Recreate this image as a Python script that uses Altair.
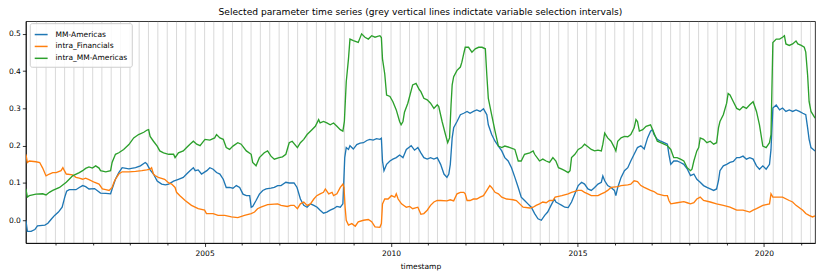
import altair as alt
import pandas as pd

# ---------------- data ----------------
series_names = ["MM-Americas", "intra_Financials", "intra_MM-Americas"]
series_colors = ["#1f77b4", "#ff7f0e", "#2ca02c"]

mm_years = [2000.21, 2000.25, 2000.35, 2000.45, 2000.52, 2000.72, 2000.80, 2000.90, 2000.98, 2001.08,
            2001.18, 2001.25, 2001.30, 2001.37, 2001.55, 2001.64, 2001.73, 2001.81, 2001.90, 2002.05,
            2002.21, 2002.35, 2002.48, 2002.52, 2002.61, 2002.70, 2002.79, 2002.97, 2003.15, 2003.28,
            2003.41, 2003.45, 2003.54, 2003.63, 2003.73, 2003.85, 2003.95, 2004.04, 2004.17, 2004.30,
            2004.43, 2004.52, 2004.61, 2004.70, 2004.75, 2004.83, 2004.92, 2005.06, 2005.14, 2005.23,
            2005.32, 2005.41, 2005.50, 2005.58, 2005.67, 2005.76, 2005.85, 2005.94, 2006.03, 2006.12,
            2006.21, 2006.25, 2006.29, 2006.38, 2006.47, 2006.56, 2006.65, 2006.78, 2006.87, 2006.96,
            2007.05, 2007.18, 2007.27, 2007.40, 2007.48, 2007.57, 2007.66, 2007.75, 2007.84, 2007.93,
            2008.02, 2008.10, 2008.19, 2008.28, 2008.37, 2008.46, 2008.55, 2008.64, 2008.71, 2008.76,
            2008.80, 2008.86, 2008.90, 2008.99, 2009.08, 2009.17, 2009.26, 2009.35, 2009.43, 2009.52,
            2009.61, 2009.70, 2009.74, 2009.77, 2009.81, 2009.88, 2009.97, 2010.05, 2010.14, 2010.23,
            2010.32, 2010.41, 2010.54, 2010.63, 2010.72, 2010.80, 2010.88, 2010.97, 2011.06, 2011.15,
            2011.24, 2011.33, 2011.42, 2011.50, 2011.55, 2011.59, 2011.64, 2011.68, 2011.77, 2011.86,
            2011.95, 2012.04, 2012.12, 2012.21, 2012.30, 2012.39, 2012.48, 2012.57, 2012.61, 2012.70,
            2012.79, 2012.88, 2012.97, 2013.05, 2013.14, 2013.23, 2013.32, 2013.41, 2013.49, 2013.58,
            2013.67, 2013.76, 2013.85, 2013.94, 2014.03, 2014.12, 2014.20, 2014.29, 2014.38, 2014.42,
            2014.49, 2014.58, 2014.66, 2014.75, 2014.84, 2014.93, 2015.02, 2015.11, 2015.19, 2015.28,
            2015.37, 2015.46, 2015.55, 2015.64, 2015.68, 2015.73, 2015.81, 2015.90, 2015.99, 2016.03,
            2016.08, 2016.17, 2016.26, 2016.35, 2016.43, 2016.52, 2016.61, 2016.70, 2016.79, 2016.88,
            2016.96, 2017.01, 2017.05, 2017.14, 2017.23, 2017.32, 2017.41, 2017.45, 2017.50, 2017.58,
            2017.67, 2017.76, 2017.85, 2017.94, 2018.03, 2018.12, 2018.20, 2018.29, 2018.38, 2018.47,
            2018.56, 2018.65, 2018.73, 2018.78, 2018.82, 2018.91, 2019.00, 2019.09, 2019.18, 2019.27,
            2019.35, 2019.44, 2019.53, 2019.62, 2019.71, 2019.80, 2019.88, 2019.97, 2020.06, 2020.15,
            2020.19, 2020.24, 2020.33, 2020.42, 2020.50, 2020.59, 2020.68, 2020.77, 2020.86, 2020.95,
            2021.04, 2021.12, 2021.17, 2021.21, 2021.26, 2021.37]
mm_values = [0.000, -0.030, -0.030, -0.025, -0.015, -0.013, -0.008, 0.004, 0.013, 0.022,
             0.035, 0.062, 0.078, 0.082, 0.082, 0.088, 0.093, 0.090, 0.084, 0.085,
             0.073, 0.072, 0.071, 0.084, 0.110, 0.128, 0.141, 0.138, 0.141, 0.146,
             0.155, 0.152, 0.135, 0.124, 0.105, 0.097, 0.095, 0.097, 0.105, 0.110,
             0.115, 0.124, 0.133, 0.141, 0.133, 0.135, 0.124, 0.133, 0.141, 0.137,
             0.128, 0.124, 0.110, 0.088, 0.088, 0.086, 0.093, 0.088, 0.070, 0.066,
             0.066, 0.035, 0.037, 0.053, 0.070, 0.080, 0.084, 0.086, 0.088, 0.093,
             0.093, 0.102, 0.100, 0.100, 0.088, 0.057, 0.040, 0.035, 0.044, 0.040,
             0.035, 0.027, 0.019, 0.022, 0.027, 0.031, 0.037, 0.035, 0.044, 0.168,
             0.195, 0.190, 0.200, 0.191, 0.203, 0.207, 0.208, 0.214, 0.217, 0.215,
             0.219, 0.217, 0.220, 0.159, 0.133, 0.150, 0.159, 0.164, 0.168, 0.175,
             0.168, 0.190, 0.200, 0.188, 0.195, 0.181, 0.168, 0.164, 0.168, 0.164,
             0.168, 0.150, 0.124, 0.115, 0.124, 0.150, 0.221, 0.248, 0.265, 0.283,
             0.287, 0.292, 0.287, 0.292, 0.296, 0.292, 0.299, 0.283, 0.256, 0.230,
             0.212, 0.199, 0.186, 0.168, 0.159, 0.141, 0.115, 0.088, 0.062, 0.053,
             0.044, 0.035, 0.018, 0.004, 0.000, 0.013, 0.022, 0.040, 0.057, 0.049,
             0.045, 0.040, 0.035, 0.034, 0.049, 0.071, 0.093, 0.102, 0.097, 0.084,
             0.080, 0.088, 0.097, 0.102, 0.119, 0.106, 0.093, 0.088, 0.080, 0.066,
             0.088, 0.115, 0.133, 0.141, 0.159, 0.177, 0.195, 0.200, 0.191, 0.221,
             0.239, 0.243, 0.230, 0.217, 0.212, 0.208, 0.204, 0.177, 0.150, 0.159,
             0.159, 0.155, 0.150, 0.138, 0.120, 0.124, 0.110, 0.102, 0.093, 0.088,
             0.084, 0.080, 0.084, 0.106, 0.133, 0.146, 0.150, 0.155, 0.158, 0.168,
             0.168, 0.172, 0.164, 0.168, 0.164, 0.146, 0.137, 0.146, 0.137, 0.150,
             0.190, 0.301, 0.309, 0.296, 0.301, 0.292, 0.296, 0.292, 0.296, 0.292,
             0.287, 0.283, 0.248, 0.217, 0.195, 0.186]

fin_years = [2000.21, 2000.25, 2000.30, 2000.48, 2000.58, 2000.66, 2000.75, 2000.84, 2000.93, 2001.02,
             2001.15, 2001.20, 2001.24, 2001.29, 2001.46, 2001.55, 2001.64, 2001.73, 2001.81, 2001.90,
             2002.04, 2002.17, 2002.26, 2002.35, 2002.44, 2002.52, 2002.57, 2002.61, 2002.70, 2002.79,
             2002.97, 2003.15, 2003.32, 2003.45, 2003.54, 2003.58, 2003.63, 2003.67, 2003.76, 2003.93,
             2004.04, 2004.12, 2004.21, 2004.25, 2004.34, 2004.48, 2004.65, 2004.83, 2005.00, 2005.05,
             2005.23, 2005.36, 2005.54, 2005.72, 2005.89, 2006.07, 2006.25, 2006.34, 2006.42, 2006.51,
             2006.69, 2006.96, 2007.05, 2007.22, 2007.31, 2007.40, 2007.49, 2007.57, 2007.66, 2007.75,
             2007.84, 2007.93, 2008.01, 2008.10, 2008.19, 2008.24, 2008.33, 2008.42, 2008.46, 2008.55,
             2008.64, 2008.71, 2008.74, 2008.77, 2008.80, 2008.86, 2008.95, 2009.04, 2009.12, 2009.26,
             2009.39, 2009.48, 2009.57, 2009.70, 2009.74, 2009.77, 2009.83, 2009.92, 2010.01, 2010.10,
             2010.14, 2010.19, 2010.28, 2010.41, 2010.50, 2010.58, 2010.72, 2010.80, 2010.88, 2010.97,
             2011.06, 2011.15, 2011.24, 2011.33, 2011.50, 2011.59, 2011.68, 2011.77, 2011.86, 2011.95,
             2011.99, 2012.04, 2012.12, 2012.21, 2012.30, 2012.39, 2012.48, 2012.57, 2012.65, 2012.70,
             2012.79, 2012.88, 2012.97, 2013.10, 2013.27, 2013.36, 2013.45, 2013.54, 2013.72, 2013.81,
             2013.89, 2013.98, 2014.07, 2014.16, 2014.25, 2014.34, 2014.40, 2014.49, 2014.58, 2014.75,
             2014.84, 2015.02, 2015.11, 2015.19, 2015.28, 2015.37, 2015.55, 2015.64, 2015.73, 2015.81,
             2015.90, 2016.08, 2016.17, 2016.35, 2016.43, 2016.52, 2016.61, 2016.70, 2016.79, 2016.96,
             2017.05, 2017.14, 2017.32, 2017.41, 2017.45, 2017.50, 2017.67, 2017.85, 2017.94, 2018.03,
             2018.12, 2018.20, 2018.29, 2018.38, 2018.56, 2018.73, 2018.91, 2019.09, 2019.18, 2019.27,
             2019.44, 2019.62, 2019.71, 2019.80, 2019.97, 2020.15, 2020.19, 2020.24, 2020.42, 2020.50,
             2020.68, 2020.77, 2020.86, 2021.04, 2021.12, 2021.21, 2021.30, 2021.37]
fin_values = [0.177, 0.155, 0.159, 0.157, 0.155, 0.140, 0.119, 0.124, 0.128, 0.128,
              0.133, 0.141, 0.133, 0.124, 0.122, 0.115, 0.113, 0.110, 0.113, 0.109,
              0.102, 0.097, 0.084, 0.082, 0.080, 0.088, 0.102, 0.110, 0.124, 0.130,
              0.130, 0.131, 0.133, 0.135, 0.137, 0.141, 0.124, 0.120, 0.115, 0.110,
              0.100, 0.097, 0.088, 0.075, 0.066, 0.053, 0.040, 0.031, 0.027, 0.018,
              0.018, 0.013, 0.013, 0.009, 0.007, 0.013, 0.018, 0.022, 0.031, 0.035,
              0.042, 0.044, 0.040, 0.037, 0.040, 0.040, 0.031, 0.044, 0.049, 0.040,
              0.044, 0.057, 0.066, 0.071, 0.075, 0.084, 0.071, 0.075, 0.066, 0.071,
              0.088, 0.097, 0.088, 0.035, 0.000, -0.013, -0.009, -0.016, -0.004, 0.000,
              0.002, -0.004, -0.018, -0.019, -0.009, 0.044, 0.057, 0.057, 0.066, 0.062,
              0.071, 0.057, 0.044, 0.035, 0.037, 0.031, 0.035, 0.016, 0.018, 0.027,
              0.040, 0.049, 0.053, 0.053, 0.052, 0.055, 0.052, 0.071, 0.075, 0.075,
              0.071, 0.053, 0.053, 0.057, 0.057, 0.062, 0.066, 0.080, 0.093, 0.088,
              0.075, 0.071, 0.062, 0.057, 0.055, 0.053, 0.044, 0.035, 0.033, 0.035,
              0.040, 0.044, 0.049, 0.047, 0.053, 0.053, 0.062, 0.064, 0.066, 0.071,
              0.075, 0.080, 0.080, 0.075, 0.071, 0.066, 0.066, 0.071, 0.075, 0.080,
              0.088, 0.090, 0.093, 0.095, 0.097, 0.106, 0.104, 0.093, 0.088, 0.080,
              0.077, 0.071, 0.066, 0.066, 0.053, 0.044, 0.047, 0.050, 0.047, 0.044,
              0.047, 0.057, 0.062, 0.053, 0.049, 0.044, 0.040, 0.035, 0.031, 0.027,
              0.027, 0.022, 0.027, 0.031, 0.040, 0.044, 0.071, 0.062, 0.062, 0.062,
              0.053, 0.049, 0.040, 0.027, 0.018, 0.013, 0.009, 0.012]

intra_years = [2000.21, 2000.25, 2000.30, 2000.48, 2000.66, 2000.75, 2000.84, 2000.93, 2001.11, 2001.29,
               2001.37, 2001.46, 2001.64, 2001.73, 2001.81, 2001.90, 2001.99, 2002.08, 2002.17, 2002.21,
               2002.35, 2002.48, 2002.52, 2002.61, 2002.70, 2002.83, 2002.97, 2003.10, 2003.23, 2003.37,
               2003.46, 2003.50, 2003.54, 2003.63, 2003.73, 2003.80, 2003.90, 2004.04, 2004.17, 2004.21,
               2004.30, 2004.43, 2004.52, 2004.61, 2004.70, 2004.79, 2004.88, 2005.01, 2005.14, 2005.27,
               2005.32, 2005.41, 2005.50, 2005.58, 2005.67, 2005.76, 2005.89, 2005.98, 2006.12, 2006.25,
               2006.29, 2006.38, 2006.47, 2006.60, 2006.69, 2006.78, 2006.87, 2007.00, 2007.09, 2007.18,
               2007.27, 2007.35, 2007.49, 2007.57, 2007.66, 2007.75, 2007.88, 2007.97, 2008.06, 2008.10,
               2008.19, 2008.28, 2008.37, 2008.46, 2008.55, 2008.64, 2008.71, 2008.75, 2008.80, 2008.86,
               2008.90, 2008.99, 2009.12, 2009.21, 2009.30, 2009.39, 2009.48, 2009.57, 2009.70, 2009.74,
               2009.77, 2009.83, 2009.88, 2009.97, 2010.05, 2010.14, 2010.23, 2010.27, 2010.32, 2010.36,
               2010.45, 2010.58, 2010.67, 2010.76, 2010.80, 2010.88, 2010.97, 2011.06, 2011.15, 2011.24,
               2011.28, 2011.37, 2011.46, 2011.52, 2011.57, 2011.61, 2011.64, 2011.68, 2011.77, 2011.86,
               2011.90, 2011.95, 2011.99, 2012.08, 2012.17, 2012.26, 2012.35, 2012.44, 2012.53, 2012.57,
               2012.61, 2012.70, 2012.79, 2012.88, 2012.97, 2013.05, 2013.19, 2013.32, 2013.41, 2013.49,
               2013.58, 2013.72, 2013.81, 2013.85, 2013.98, 2014.07, 2014.16, 2014.25, 2014.34, 2014.42,
               2014.49, 2014.58, 2014.66, 2014.75, 2014.80, 2014.84, 2014.93, 2015.02, 2015.11, 2015.19,
               2015.28, 2015.37, 2015.46, 2015.55, 2015.64, 2015.68, 2015.73, 2015.81, 2015.90, 2015.99,
               2016.03, 2016.08, 2016.17, 2016.26, 2016.35, 2016.43, 2016.52, 2016.57, 2016.61, 2016.66,
               2016.75, 2016.84, 2016.96, 2017.05, 2017.14, 2017.23, 2017.32, 2017.41, 2017.50, 2017.58,
               2017.67, 2017.76, 2017.85, 2017.94, 2018.03, 2018.07, 2018.12, 2018.20, 2018.25, 2018.29,
               2018.38, 2018.47, 2018.56, 2018.65, 2018.73, 2018.78, 2018.82, 2018.91, 2019.00, 2019.04,
               2019.09, 2019.18, 2019.27, 2019.35, 2019.44, 2019.53, 2019.62, 2019.71, 2019.80, 2019.88,
               2019.97, 2020.06, 2020.15, 2020.19, 2020.24, 2020.33, 2020.42, 2020.50, 2020.55, 2020.59,
               2020.68, 2020.77, 2020.86, 2020.91, 2021.00, 2021.08, 2021.12, 2021.17, 2021.21, 2021.26,
               2021.37]
intra_values = [0.084, 0.062, 0.066, 0.070, 0.071, 0.068, 0.075, 0.080, 0.088, 0.102,
                0.110, 0.119, 0.128, 0.133, 0.139, 0.143, 0.140, 0.146, 0.140, 0.133,
                0.130, 0.133, 0.155, 0.177, 0.181, 0.190, 0.203, 0.221, 0.230, 0.236,
                0.242, 0.243, 0.225, 0.212, 0.199, 0.186, 0.181, 0.177, 0.177, 0.168,
                0.181, 0.186, 0.195, 0.204, 0.212, 0.204, 0.200, 0.217, 0.215, 0.221,
                0.230, 0.221, 0.217, 0.195, 0.190, 0.199, 0.208, 0.204, 0.186, 0.177,
                0.155, 0.146, 0.168, 0.181, 0.186, 0.172, 0.164, 0.168, 0.170, 0.177,
                0.208, 0.212, 0.195, 0.208, 0.217, 0.230, 0.243, 0.252, 0.270, 0.261,
                0.265, 0.261, 0.256, 0.261, 0.252, 0.243, 0.239, 0.265, 0.371, 0.433,
                0.486, 0.482, 0.477, 0.500, 0.491, 0.486, 0.495, 0.491, 0.495, 0.490,
                0.433, 0.393, 0.336, 0.332, 0.318, 0.296, 0.265, 0.256, 0.265, 0.290,
                0.314, 0.363, 0.367, 0.350, 0.345, 0.327, 0.323, 0.314, 0.300, 0.310,
                0.305, 0.265, 0.230, 0.208, 0.221, 0.310, 0.363, 0.385, 0.402, 0.411,
                0.424, 0.447, 0.464, 0.464, 0.451, 0.460, 0.464, 0.464, 0.460, 0.389,
                0.327, 0.283, 0.239, 0.199, 0.195, 0.199, 0.195, 0.190, 0.159, 0.159,
                0.177, 0.181, 0.186, 0.177, 0.159, 0.164, 0.159, 0.155, 0.168, 0.159,
                0.141, 0.137, 0.133, 0.128, 0.133, 0.168, 0.177, 0.190, 0.195, 0.204,
                0.197, 0.190, 0.186, 0.188, 0.186, 0.204, 0.234, 0.221, 0.212, 0.195,
                0.186, 0.212, 0.221, 0.225, 0.224, 0.230, 0.248, 0.270, 0.265, 0.239,
                0.243, 0.252, 0.256, 0.234, 0.212, 0.208, 0.204, 0.200, 0.190, 0.168,
                0.168, 0.164, 0.159, 0.141, 0.133, 0.137, 0.159, 0.186, 0.195, 0.221,
                0.217, 0.208, 0.212, 0.204, 0.208, 0.248, 0.265, 0.283, 0.314, 0.340,
                0.336, 0.318, 0.300, 0.296, 0.305, 0.300, 0.310, 0.318, 0.292, 0.256,
                0.199, 0.195, 0.208, 0.230, 0.477, 0.486, 0.486, 0.491, 0.495, 0.473,
                0.469, 0.473, 0.481, 0.473, 0.469, 0.464, 0.451, 0.389, 0.318, 0.292,
                0.274]

# quarterly variable-selection interval boundaries (grey vertical lines)
selection_starts = pd.date_range("2000-07-01", "2021-04-01", freq="QS")

y_ticks = [0.0, 0.1, 0.2, 0.3, 0.4, 0.5]


def to_date(y):
    yr = int(y)
    return pd.Timestamp(year=yr, month=1, day=1) + pd.Timedelta(days=(y - yr) * 365.25)


frames = []
for name, ys, vs in [(series_names[0], mm_years, mm_values),
                     (series_names[1], fin_years, fin_values),
                     (series_names[2], intra_years, intra_values)]:
    frames.append(pd.DataFrame({"timestamp": [to_date(y) for y in ys],
                                "value": vs, "series": name}))
df = pd.concat(frames, ignore_index=True)
sel_df = pd.DataFrame({"timestamp": selection_starts})

d0, d1 = to_date(2000.21), to_date(2021.372)
x_scale = alt.Scale(domain=[alt.DateTime(year=d0.year, month=d0.month, date=d0.day),
                            alt.DateTime(year=d1.year, month=d1.month, date=d1.day)],
                    nice=False)
y_scale = alt.Scale(domain=[-0.061, 0.534], nice=False, zero=False)

FS = 7.6
five = "year(datum.value) % 5 == 0"
x_axis = alt.Axis(title="timestamp", grid=False,
                  tickCount={"interval": "year", "step": 1},
                  labelExpr=f"{five} ? timeFormat(datum.value, '%Y') : ''",
                  labelOverlap=False, labelFlush=False,
                  tickSize={"condition": {"test": five, "value": 3.5}, "value": 2},
                  labelFontSize=FS, titleFontSize=FS, titleFontWeight="normal",
                  labelPadding=3, titlePadding=6,
                  tickColor="black", domainColor="black", labelColor="black", titleColor="black",
                  tickWidth=0.8, domainWidth=0.8)
y_axis = alt.Axis(title=None, grid=False, values=y_ticks, format=".1f",
                  labelFontSize=FS, tickSize=3.5, labelPadding=2,
                  tickColor="black", domainColor="black", labelColor="black",
                  tickWidth=0.8, domainWidth=0.8)

rules = alt.Chart(sel_df).mark_rule(color="grey", opacity=0.3, strokeWidth=1).encode(
    x=alt.X("timestamp:T", scale=x_scale, axis=x_axis)
)

lines = alt.Chart(df).mark_line(strokeWidth=1.35, clip=True).encode(
    x=alt.X("timestamp:T", scale=x_scale, axis=x_axis),
    y=alt.Y("value:Q", scale=y_scale, axis=y_axis),
    color=alt.Color("series:N",
                    scale=alt.Scale(domain=series_names, range=series_colors),
                    sort=series_names,
                    legend=alt.Legend(title=None, orient="none", legendX=4, legendY=2,
                                      symbolType="stroke", symbolSize=170,
                                      symbolStrokeWidth=1.5, labelFontSize=FS,
                                      labelColor="black", labelOffset=7,
                                      fillColor="rgba(255,255,255,0.85)",
                                      strokeColor="#cccccc", cornerRadius=2,
                                      padding=4, rowPadding=0, labelLimit=300)),
)

chart = alt.layer(rules, lines).properties(
    width=797, height=224,
    title=alt.TitleParams("Selected parameter time series (grey vertical lines indictate variable selection intervals)",
                          fontSize=9.2, fontWeight="normal", anchor="middle", offset=4, color="black"),
    autosize=alt.AutoSizeParams(type="none"),
    padding={"left": 18, "top": 12, "right": 7, "bottom": 32},
).configure(font="DejaVu Sans").configure_view(stroke="black", strokeWidth=0.8)

chart.save("out.html", embed_options={"renderer": "svg", "actions": False})
